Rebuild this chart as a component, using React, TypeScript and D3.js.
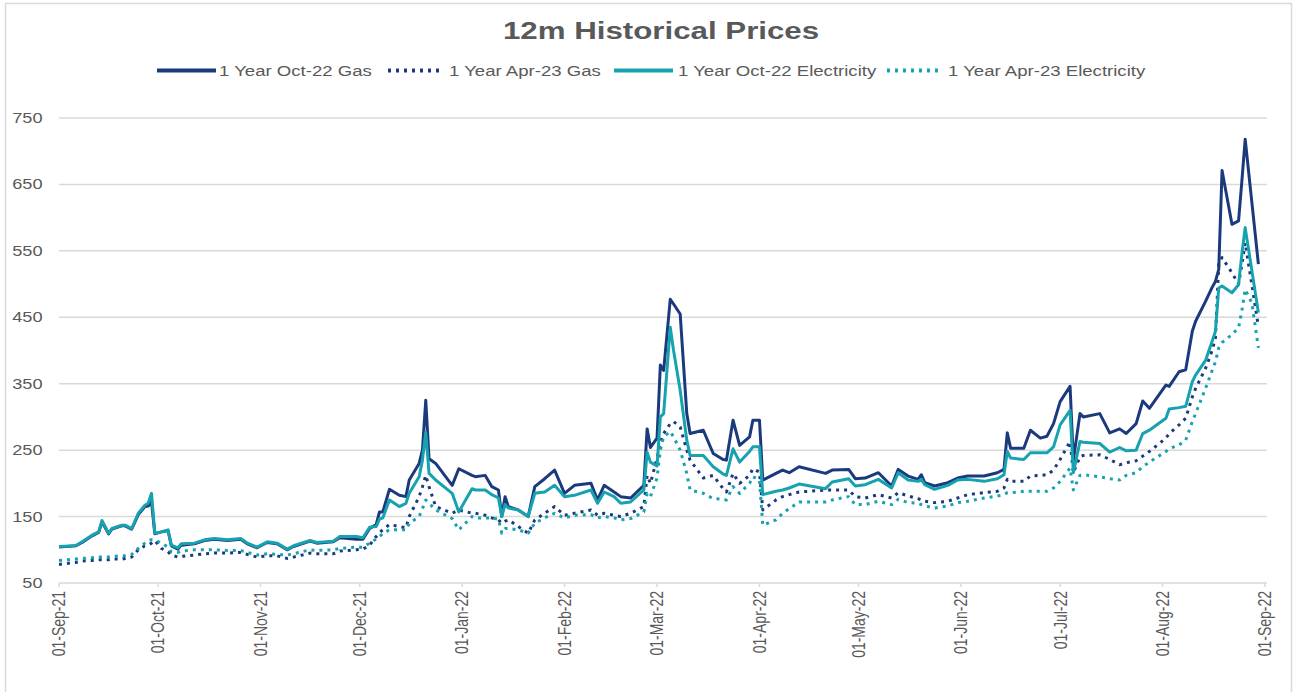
import React from 'react';
import * as d3 from 'd3';

// daily-ish samples (GBP-ish index values)
const dates = [
  '2021-09-01', '2021-09-06', '2021-09-08', '2021-09-11', '2021-09-13', '2021-09-14', '2021-09-16', '2021-09-17',
  '2021-09-20', '2021-09-21', '2021-09-23', '2021-09-25', '2021-09-27', '2021-09-28', '2021-09-29', '2021-09-30',
  '2021-10-02', '2021-10-04', '2021-10-05', '2021-10-07', '2021-10-08', '2021-10-12', '2021-10-15', '2021-10-18',
  '2021-10-22', '2021-10-26', '2021-10-28', '2021-10-31', '2021-11-03', '2021-11-06', '2021-11-09', '2021-11-11',
  '2021-11-16', '2021-11-18', '2021-11-23', '2021-11-25', '2021-11-30', '2021-12-02', '2021-12-04', '2021-12-06',
  '2021-12-07', '2021-12-08', '2021-12-10', '2021-12-13', '2021-12-15', '2021-12-16', '2021-12-19', '2021-12-20',
  '2021-12-21', '2021-12-22', '2021-12-24', '2021-12-29', '2021-12-31', '2022-01-04', '2022-01-05', '2022-01-08',
  '2022-01-10', '2022-01-12', '2022-01-13', '2022-01-14', '2022-01-15', '2022-01-18', '2022-01-21', '2022-01-23',
  '2022-01-26', '2022-01-29', '2022-02-01', '2022-02-04', '2022-02-09', '2022-02-11', '2022-02-13', '2022-02-16',
  '2022-02-18', '2022-02-21', '2022-02-25', '2022-02-26', '2022-02-27', '2022-03-01', '2022-03-02', '2022-03-03',
  '2022-03-05', '2022-03-06', '2022-03-08', '2022-03-10', '2022-03-11', '2022-03-15', '2022-03-18', '2022-03-21',
  '2022-03-22', '2022-03-24', '2022-03-26', '2022-03-29', '2022-03-30', '2022-04-01', '2022-04-02', '2022-04-06',
  '2022-04-08', '2022-04-10', '2022-04-13', '2022-04-21', '2022-04-23', '2022-04-28', '2022-04-30', '2022-05-03',
  '2022-05-07', '2022-05-11', '2022-05-13', '2022-05-16', '2022-05-19', '2022-05-20', '2022-05-21', '2022-05-24',
  '2022-05-28', '2022-05-31', '2022-06-03', '2022-06-08', '2022-06-12', '2022-06-14', '2022-06-15', '2022-06-16',
  '2022-06-20', '2022-06-22', '2022-06-25', '2022-06-27', '2022-06-29', '2022-07-01', '2022-07-04', '2022-07-05',
  '2022-07-07', '2022-07-08', '2022-07-13', '2022-07-16', '2022-07-19', '2022-07-21', '2022-07-24', '2022-07-26',
  '2022-07-28', '2022-08-02', '2022-08-03', '2022-08-06', '2022-08-08', '2022-08-10', '2022-08-11', '2022-08-14',
  '2022-08-16', '2022-08-17', '2022-08-18', '2022-08-19', '2022-08-22', '2022-08-24', '2022-08-25', '2022-08-26',
  '2022-08-28', '2022-08-30',
];

const octGas = [
  104, 106, 111, 121, 126, 142, 124, 131, 136, 136, 131, 153, 165, 166, 172, 124,
  127, 129, 106, 101, 107, 109, 114, 116, 114, 116, 109, 103, 111, 109, 100, 105,
  113, 110, 112, 118, 116, 116, 132, 138, 157, 157, 191, 182, 180, 205, 230, 250,
  325, 237, 230, 197, 222, 212, 210, 212, 195, 190, 150, 180, 165, 160, 150, 195,
  207, 220, 185, 197, 200, 175, 197, 187, 180, 178, 197, 282, 254, 268, 378, 370,
  477, 470, 455, 305, 275, 280, 245, 236, 235, 295, 257, 270, 295, 295, 205, 215,
  220, 216, 225, 215, 220, 221, 207, 208, 216, 196, 221, 211, 206, 213, 201, 196,
  201, 208, 211, 211, 216, 221, 276, 253, 253, 280, 268, 271, 290, 323, 346, 235,
  305, 300, 305, 276, 282, 275, 290, 324, 313, 348, 346, 368, 371, 429, 444, 474,
  495, 504, 522, 671, 590, 595, 655, 718, 624, 530,
];

const aprGas = [
  78, 81, 83, 84, 85, 85, 85, 86, 86, 87, 89, 100, 106, 107, 110, 114,
  102, 97, 92, 89, 90, 92, 94, 95, 95, 96, 93, 89, 91, 91, 87, 89,
  95, 94, 94, 98, 100, 101, 107, 120, 126, 130, 138, 135, 133, 150, 180, 195,
  212, 195, 165, 155, 160, 155, 155, 152, 148, 145, 140, 143, 145, 135, 125, 145,
  155, 165, 152, 155, 160, 152, 155, 152, 150, 155, 165, 212, 200, 238, 262, 275,
  290, 293, 285, 250, 235, 208, 212, 192, 187, 215, 200, 212, 222, 217, 160, 175,
  180, 183, 187, 190, 190, 190, 180, 178, 183, 178, 186, 181, 177, 175, 173, 171,
  173, 178, 183, 186, 188, 193, 206, 203, 203, 211, 212, 213, 220, 236, 263, 216,
  240, 242, 243, 236, 228, 231, 234, 241, 248, 268, 275, 288, 298, 330, 343, 373,
  400, 419, 530, 540, 517, 500, 530, 562, 500, 436,
];

const octElec = [
  105, 106, 112, 122, 127, 144, 125, 132, 137, 137, 132, 155, 167, 170, 185, 125,
  127, 130, 107, 103, 109, 110, 115, 117, 115, 117, 110, 104, 112, 110, 101, 106,
  114, 111, 113, 120, 120, 118, 134, 135, 146, 148, 175, 165, 170, 185, 210, 235,
  277, 215, 205, 185, 157, 192, 190, 190, 183, 178, 150, 168, 163, 160, 150, 185,
  187, 197, 180, 182, 190, 170, 187, 180, 170, 172, 190, 247, 232, 226, 300, 305,
  435, 400, 340, 265, 242, 242, 225, 214, 212, 252, 232, 248, 255, 255, 183, 188,
  190, 193, 199, 192, 202, 207, 196, 198, 206, 193, 216, 205, 203, 206, 198, 191,
  197, 205, 206, 203, 207, 213, 248, 238, 236, 246, 246, 246, 255, 288, 310, 216,
  263, 262, 260, 247, 254, 249, 250, 275, 280, 298, 312, 314, 316, 353, 363, 385,
  414, 429, 494, 497, 487, 499, 545, 585, 521, 457,
];

const aprElec = [
  84, 86, 87, 88, 89, 89, 89, 90, 91, 91, 93, 102, 110, 114, 115, 115,
  110, 104, 97, 96, 98, 100, 100, 100, 99, 99, 96, 92, 94, 93, 92, 94,
  100, 99, 100, 102, 104, 104, 110, 116, 120, 124, 130, 130, 130, 140, 150, 162,
  175, 170, 160, 147, 130, 150, 148, 148, 148, 146, 125, 132, 132, 130, 125, 140,
  148, 155, 148, 152, 153, 148, 150, 148, 145, 147, 157, 185, 180, 208, 250, 270,
  278, 270, 250, 215, 190, 185, 177, 176, 175, 195, 185, 200, 210, 205, 137, 145,
  155, 162, 172, 172, 175, 180, 168, 168, 173, 168, 176, 171, 170, 168, 166, 163,
  166, 171, 173, 178, 181, 183, 186, 186, 188, 188, 188, 188, 193, 203, 223, 190,
  212, 213, 210, 207, 205, 212, 216, 225, 232, 248, 252, 258, 265, 293, 305, 343,
  370, 383, 404, 412, 424, 434, 460, 492, 472, 404,
];

const seriesNames = [
  '1 Year Oct-22 Gas',
  '1 Year Apr-23 Gas',
  '1 Year Oct-22 Electricity',
  '1 Year Apr-23 Electricity',
];

const yTicks = [50, 150, 250, 350, 450, 550, 650, 750];

const monthTicks = [
  '2021-09-01', '2021-10-01', '2021-11-01', '2021-12-01', '2022-01-01', '2022-02-01', '2022-03-01',
  '2022-04-01', '2022-05-01', '2022-06-01', '2022-07-01', '2022-08-01', '2022-09-01',
];

const NAVY = '#1b3a7d';
const TEAL = '#17a2b0';
const GRID = '#d9d9d9';
const TEXT = '#595959';
const FONT = '"Liberation Sans", Arial, sans-serif';

// the picture is a bit wider than it is tall, text gets the same squash
const STRETCH = 1.3;

const styles = [
  { color: NAVY, dash: null },
  { color: NAVY, dash: '3 5' },
  { color: TEAL, dash: null },
  { color: TEAL, dash: '3 5' },
];

// legend layout: sample line start/end and text start
const legendPos = [
  { x0: 157, x1: 216, tx: 219 },
  { x0: 388, x1: 442, tx: 449 },
  { x0: 614, x1: 673, tx: 678 },
  { x0: 887, x1: 941, tx: 948 },
];

const App: React.FC = () => {
  const width = 1294;
  const height = 692;
  const left = 59;
  const right = 1265;
  const top = 118;
  const bottom = 583;

  const parse = d3.timeParse('%Y-%m-%d');
  const fmt = d3.timeFormat('%d-%b-%y');

  const x = d3
    .scaleTime()
    .domain([parse('2021-09-01')!, parse('2022-09-01')!])
    .range([left, right]);

  const y = d3.scaleLinear().domain([50, 750]).range([bottom, top]);

  const parsed = dates.map((d) => parse(d)!);
  const allSeries = [octGas, aprGas, octElec, aprElec];

  const line = d3
    .line<number>()
    .x((_, i) => x(parsed[i]))
    .y((v) => y(v));

  return (
    <svg
      width={width}
      height={height}
      style={{ position: 'absolute', left: 0, top: 0, background: '#fff' }}
      fontFamily={FONT}
    >
      <rect x={5.5} y={3.5} width={1286} height={710} fill="#fff" stroke={GRID} strokeWidth={1.5} />

      <text
        transform={`translate(661,39) scale(1.36,1)`}
        textAnchor="middle"
        fontSize={23}
        fontWeight="bold"
        fill={TEXT}
      >
        12m Historical Prices
      </text>

      {/* legend */}
      {seriesNames.map((name, i) => (
        <g key={name}>
          <line
            x1={legendPos[i].x0}
            x2={legendPos[i].x1}
            y1={70.5}
            y2={70.5}
            stroke={styles[i].color}
            strokeWidth={4}
            strokeDasharray={styles[i].dash ?? undefined}
          />
          <text transform={`translate(${legendPos[i].tx},75.5) scale(1.24,1)`} fontSize={15} fill={TEXT}>
            {name}
          </text>
        </g>
      ))}

      {/* grid + y labels */}
      {yTicks.map((t) => (
        <g key={t}>
          <line x1={left} x2={right + 2} y1={y(t)} y2={y(t)} stroke={GRID} strokeWidth={1.5} />
          <text
            transform={`translate(42.5,${y(t) + 5}) scale(${STRETCH},1)`}
            textAnchor="end"
            fontSize={14}
            fill={TEXT}
          >
            {t}
          </text>
        </g>
      ))}

      {/* x ticks + rotated labels */}
      {monthTicks.map((m) => {
        const d = parse(m)!;
        const tx = x(d);
        return (
          <g key={m}>
            <line x1={tx} x2={tx} y1={bottom} y2={bottom + 4} stroke={GRID} strokeWidth={1.5} />
            <text
              transform={`translate(${tx},591) rotate(-90) scale(1,${STRETCH})`}
              textAnchor="end"
              dy="0.35em"
              fontSize={14}
              fill={TEXT}
            >
              {fmt(d)}
            </text>
          </g>
        );
      })}

      {/* series, drawn in legend order */}
      {allSeries.map((vals, i) => (
        <path
          key={seriesNames[i]}
          d={line(vals) ?? undefined}
          fill="none"
          stroke={styles[i].color}
          strokeWidth={3}
          strokeLinejoin="round"
          strokeDasharray={styles[i].dash ?? undefined}
        />
      ))}
    </svg>
  );
};

export default App;
